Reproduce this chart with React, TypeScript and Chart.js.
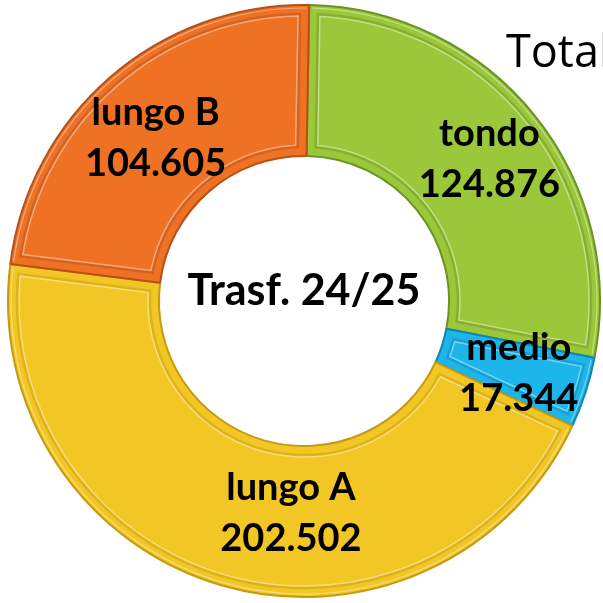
import React, { useEffect, useRef } from "react";
import { Chart, registerables } from "chart.js";

Chart.register(...registerables);

const categories = ["tondo", "medio", "lungo A", "lungo B"];
const values = [124.876, 17.344, 202.502, 104.605];
const valueLabels = ["124.876", "17.344", "202.502", "104.605"];
const colors = ["#9AC83A", "#1DB6EA", "#F2C624", "#EE7124"];
const edgeColors = ["#6E9222", "#0F87B3", "#C49A10", "#B6501A"];
const labelNudge = [[14, -4], [5, 4], [48, 0], [-4, 3]];
const centerTitle = "Trasf. 24/25";
const cornerTitle = "Total";

const bevelPlugin = {
  id: "bevel",
  afterDatasetsDraw(chart: any) {
    const ctx = chart.ctx;
    const meta = chart.getDatasetMeta(0);
    meta.data.forEach((arc: any, i: number) => {
      const p = arc.getProps(["x", "y", "startAngle", "endAngle", "innerRadius", "outerRadius"], true);
      const d = 9;
      const ro = p.outerRadius - d;
      const ri = p.innerRadius + d;
      const so = p.startAngle + d / ro;
      const eo = p.endAngle - d / ro;
      const si = p.startAngle + d / ri;
      const ei = p.endAngle - d / ri;
      ctx.save();
      ctx.beginPath();
      ctx.arc(p.x, p.y, ro, so, eo);
      ctx.arc(p.x, p.y, ri, ei, si, true);
      ctx.closePath();
      ctx.lineWidth = 2.5;
      ctx.strokeStyle = edgeColors[i];
      ctx.globalAlpha = 0.45;
      ctx.stroke();
      ctx.beginPath();
      ctx.arc(p.x, p.y, ro - 2, so + 2 / ro, eo - 2 / ro);
      ctx.arc(p.x, p.y, ri + 2, ei - 2 / ri, si + 2 / ri, true);
      ctx.closePath();
      ctx.lineWidth = 1.5;
      ctx.strokeStyle = "rgba(255,255,255,0.4)";
      ctx.globalAlpha = 1;
      ctx.stroke();
      ctx.beginPath();
      ctx.arc(p.x, p.y, p.outerRadius - 3, p.startAngle + 3 / p.outerRadius, p.endAngle - 3 / p.outerRadius);
      ctx.lineWidth = 1.2;
      ctx.strokeStyle = "rgba(255,255,255,0.4)";
      ctx.stroke();
      ctx.restore();
    });
  },
};

const labelPlugin = {
  id: "labels",
  afterDraw(chart: any) {
    const ctx = chart.ctx;
    const meta = chart.getDatasetMeta(0);
    ctx.save();
    ctx.fillStyle = "#000";
    ctx.textAlign = "center";
    ctx.textBaseline = "middle";
    ctx.font = "bold 38px Lato";
    meta.data.forEach((arc: any, i: number) => {
      const pos = arc.tooltipPosition(true);
      const x = pos.x + labelNudge[i][0];
      const y = pos.y + labelNudge[i][1];
      ctx.fillText(categories[i], x, y - 25);
      ctx.fillText(valueLabels[i], x, y + 26);
    });
    const a0 = meta.data[0];
    ctx.font = "bold 43px Lato";
    ctx.fillText(centerTitle, a0.x, a0.y - 10);
    ctx.font = "45px 'Open Sans'";
    ctx.textAlign = "left";
    ctx.textBaseline = "alphabetic";
    ctx.fillText(cornerTitle, chart.width - 97, 67);
    ctx.restore();
  },
};

export default function App() {
  const ref = useRef<HTMLCanvasElement>(null);
  useEffect(() => {
    if (!ref.current) return;
    const chart = new Chart(ref.current, {
      type: "doughnut",
      data: {
        labels: categories,
        datasets: [
          {
            data: values,
            backgroundColor: colors,
            borderColor: edgeColors,
            borderWidth: 2,
          },
        ],
      },
      options: {
        responsive: false,
        animation: false,
        cutout: "49%",
        rotation: 1,
        layout: { padding: { left: 7, right: 2, top: 4, bottom: 5 } },
        plugins: { legend: { display: false }, tooltip: { enabled: false } },
      },
      plugins: [bevelPlugin, labelPlugin],
    });
    return () => chart.destroy();
  }, []);
  return (
    <div style={{ position: "absolute", left: 0, top: 0, width: 603, height: 603, background: "#fff" }}>
      <canvas ref={ref} width={603} height={603} />
    </div>
  );
}
